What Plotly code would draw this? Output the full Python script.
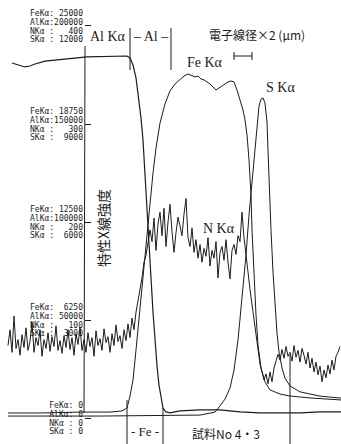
import plotly.graph_objects as go

# ---- data (line-scan positions in arbitrary scan units; intensities in counts) ----
al_pos = [12, 20, 25, 30, 35, 45, 55, 67, 77, 87, 100, 113, 122, 127, 130, 133, 136, 139, 141, 143,
          145, 147, 149, 151, 153, 155, 157, 159, 161, 163, 166, 170, 180, 200, 220, 240, 260, 280,
          300, 320, 341]
al_cps = [181100, 180100, 179100, 179600, 180600, 182100, 182700, 183200, 183700, 184200, 184400,
          184700, 185000, 184700, 183700, 180100, 173500, 162200, 153100, 141800, 125500, 107700,
          89800, 71400, 54100, 38800, 26500, 16800, 9700, 5100, 3100, 2600, 3600, 4100, 4100, 3100,
          2600, 2600, 2600, 3100, 3100]

fe_pos = [8, 40, 80, 110, 122, 127, 130, 133, 136, 139, 142, 145, 147, 149, 151, 153, 156, 160, 165,
          170, 175, 180, 184, 188, 192, 195, 198, 201, 204, 207, 210, 213, 216, 219, 222, 225, 228,
          231, 234, 237, 240, 243, 245, 247, 249, 251, 252, 254, 256, 258, 261, 265, 270, 280, 290,
          310, 341]
fe_cps = [320, 320, 380, 380, 450, 640, 1400, 2420, 4340, 6380, 8480, 10200, 11480, 12760, 14220,
          15630, 17220, 18810, 20030, 20860, 21300, 21620, 21810, 21940, 21810, 21750, 21810, 21620,
          21560, 21430, 21300, 21110, 20920, 21050, 21170, 21300, 21430, 21490, 21430, 20920, 20280,
          19640, 19010, 18050, 16460, 14220, 11990, 9120, 6570, 4660, 3190, 2300, 1790, 1530, 1400,
          1280, 1150]

s_pos = [8, 100, 200, 215, 220, 225, 230, 234, 238, 242, 246, 249, 252, 255, 257, 259, 261, 263, 265,
         266, 267, 268, 269, 271, 273, 275, 277, 279, 282, 285, 290, 300, 320, 341]
s_cps = [60, 60, 90, 180, 370, 580, 920, 1470, 2390, 3610, 4990, 6210, 7290, 8360, 9060, 9550, 9760,
         9800, 9640, 9370, 9060, 8200, 7130, 5750, 4470, 3460, 2600, 2020, 1530, 1220, 980, 800, 670,
         610]

n_pos = list(range(8, 341, 2))
n_cps = [74, 90, 67, 104, 71, 80, 64, 85, 72, 92,
         69, 78, 98, 67, 82, 74, 90, 63, 80, 71,
         87, 68, 83, 73, 94, 69, 79, 66, 84, 72,
         90, 70, 82, 64, 86, 75, 93, 69, 80, 67,
         87, 73, 82, 63, 89, 74, 81, 69, 91, 77,
         83, 67, 86, 74, 95, 78, 84, 71, 90, 79,
         96, 82, 102, 90, 108, 120, 129, 143, 159, 166,
         179, 192, 180, 204, 171, 198, 210, 186, 214, 175,
         200, 218, 190, 169, 189, 205, 196, 186, 208, 224,
         184, 175, 194, 169, 182, 163, 177, 159, 173, 165,
         184, 155, 171, 163, 180, 143, 169, 175, 161, 182,
         159, 142, 171, 177, 167, 186, 180, 210, 184, 169,
         149, 131, 115, 98, 82, 67, 55, 47, 39, 45,
         35, 47, 37, 51, 57, 65, 59, 70, 61, 73,
         63, 67, 58, 74, 62, 69, 57, 71, 64, 55,
         67, 51, 61, 47, 57, 44, 53, 37, 49, 41,
         54, 45, 59, 49, 63, 67, 73]

# tick values / labels for each element's intensity scale
fe_ticks = [0, 6250, 12500, 18750, 25000]
al_ticks = [0, 50000, 100000, 150000, 200000]
n_ticks = [0, 100, 200, 300, 400]
s_ticks = [0, 3000, 6000, 9000, 12000]
fe_labels = ["FeKα: 0", "FeKα:  6250", "FeKα: 12500", "FeKα: 18750", "FeKα: 25000"]
al_labels = ["AlKα: 0", "AlKα: 50000", "AlKα:100000", "AlKα:150000", "AlKα:200000"]
n_labels = ["NKα : 0", "NKα :   100", "NKα :   200", "NKα :   300", "NKα :   400"]
s_labels = ["SKα : 0", "SKα :  3000", "SKα :  6000", "SKα :  9000", "SKα : 12000"]

# ---- figure ----
W, H = 341, 444
LO, HI = -0.0663, 1.0663
INK = "#1c1c1c"
AX_POS = 84 / W

def nb(s):
    return s.replace(" ", "\u00a0")

def yax(full, vals, texts, shift, main=False):
    d = dict(range=[LO * full, HI * full], tickmode="array", tickvals=vals,
             ticktext=[nb(t) for t in texts], showgrid=False, zeroline=False, showline=False,
             anchor="free", position=AX_POS, ticklabelshift=shift, ticklabelstandoff=1,
             tickfont=dict(family="DejaVu Sans Mono", size=8, color=INK),
             ticks="inside" if main else "", ticklen=6, tickwidth=1, tickcolor=INK)
    if not main:
        d["overlaying"] = "y"
    return d

fig = go.Figure()
line = dict(color=INK, width=1)
fig.add_trace(go.Scatter(x=fe_pos, y=fe_cps, mode="lines", line=line, yaxis="y", name="FeKα"))
fig.add_trace(go.Scatter(x=al_pos, y=al_cps, mode="lines", line=dict(color=INK, width=1.2), yaxis="y2", name="AlKα"))
fig.add_trace(go.Scatter(x=n_pos, y=n_cps, mode="lines", line=line, yaxis="y3", name="NKα"))
fig.add_trace(go.Scatter(x=s_pos, y=s_cps, mode="lines", line=line, yaxis="y4", name="SKα"))

def py(pix):
    return 1 - pix / H

shapes = []
def seg(x0, y0, x1, y1, w=1):
    shapes.append(dict(type="line", xref="x", yref="paper", x0=x0, x1=x1, y0=py(y0), y1=py(y1),
                       line=dict(color=INK, width=w)))

seg(85, 46, 84, 413)          # intensity axis
seg(130, 28, 130, 70)         # Al region bracket
seg(171, 28, 171, 70)
seg(234, 56, 252, 56)         # beam-diameter scale bar
seg(234, 52, 234, 60)
seg(252, 52, 252, 60)
seg(127, 400, 127, 444)       # Fe region bracket
seg(163, 408, 163, 444)
seg(290, 355, 290, 444)

serif = "Liberation Serif"
cjk = "Noto Sans CJK JP"
ann = []
def txt(x, y, s, size, fam, angle=0):
    ann.append(dict(x=x, y=py(y), xref="x", yref="paper", text=s, showarrow=False,
                    font=dict(family=fam, size=size, color=INK), textangle=angle,
                    xanchor="center", yanchor="middle"))

txt(108, 36, "Al Kα", 14, serif)
txt(151, 36, "– Al –", 14, serif)
txt(257, 34, "電子線径×2 (μm)", 12, cjk)
txt(205, 62, "Fe Kα", 14, serif)
txt(280, 87, "S Kα", 14, serif)
txt(219, 229, "N Kα", 14, serif)
txt(145, 431, "- Fe -", 13, serif)
txt(226, 433, "試料No 4・3", 12, cjk)
# rotated axis caption, anchored by its left edge just right of the axis line
ann.append(dict(x=91, y=py(228), xref="x", yref="paper", text="特性X線強度", showarrow=False,
                font=dict(family=cjk, size=14, color=INK), textangle=-90,
                xanchor="left", yanchor="middle"))

fig.update_layout(
    width=W, height=H, margin=dict(l=0, r=0, t=0, b=0),
    paper_bgcolor="white", plot_bgcolor="white", showlegend=False,
    xaxis=dict(range=[0, W], visible=False, domain=[0, 1]),
    yaxis=yax(25000, fe_ticks, fe_labels, -13, main=True),
    yaxis2=yax(200000, al_ticks, al_labels, -4),
    yaxis3=yax(400, n_ticks, n_labels, 5),
    yaxis4=yax(12000, s_ticks, s_labels, 13),
    shapes=shapes, annotations=ann,
)

fig.write_html("out.html", config={"displayModeBar": False},
               post_script="document.body.style.margin='0';")
